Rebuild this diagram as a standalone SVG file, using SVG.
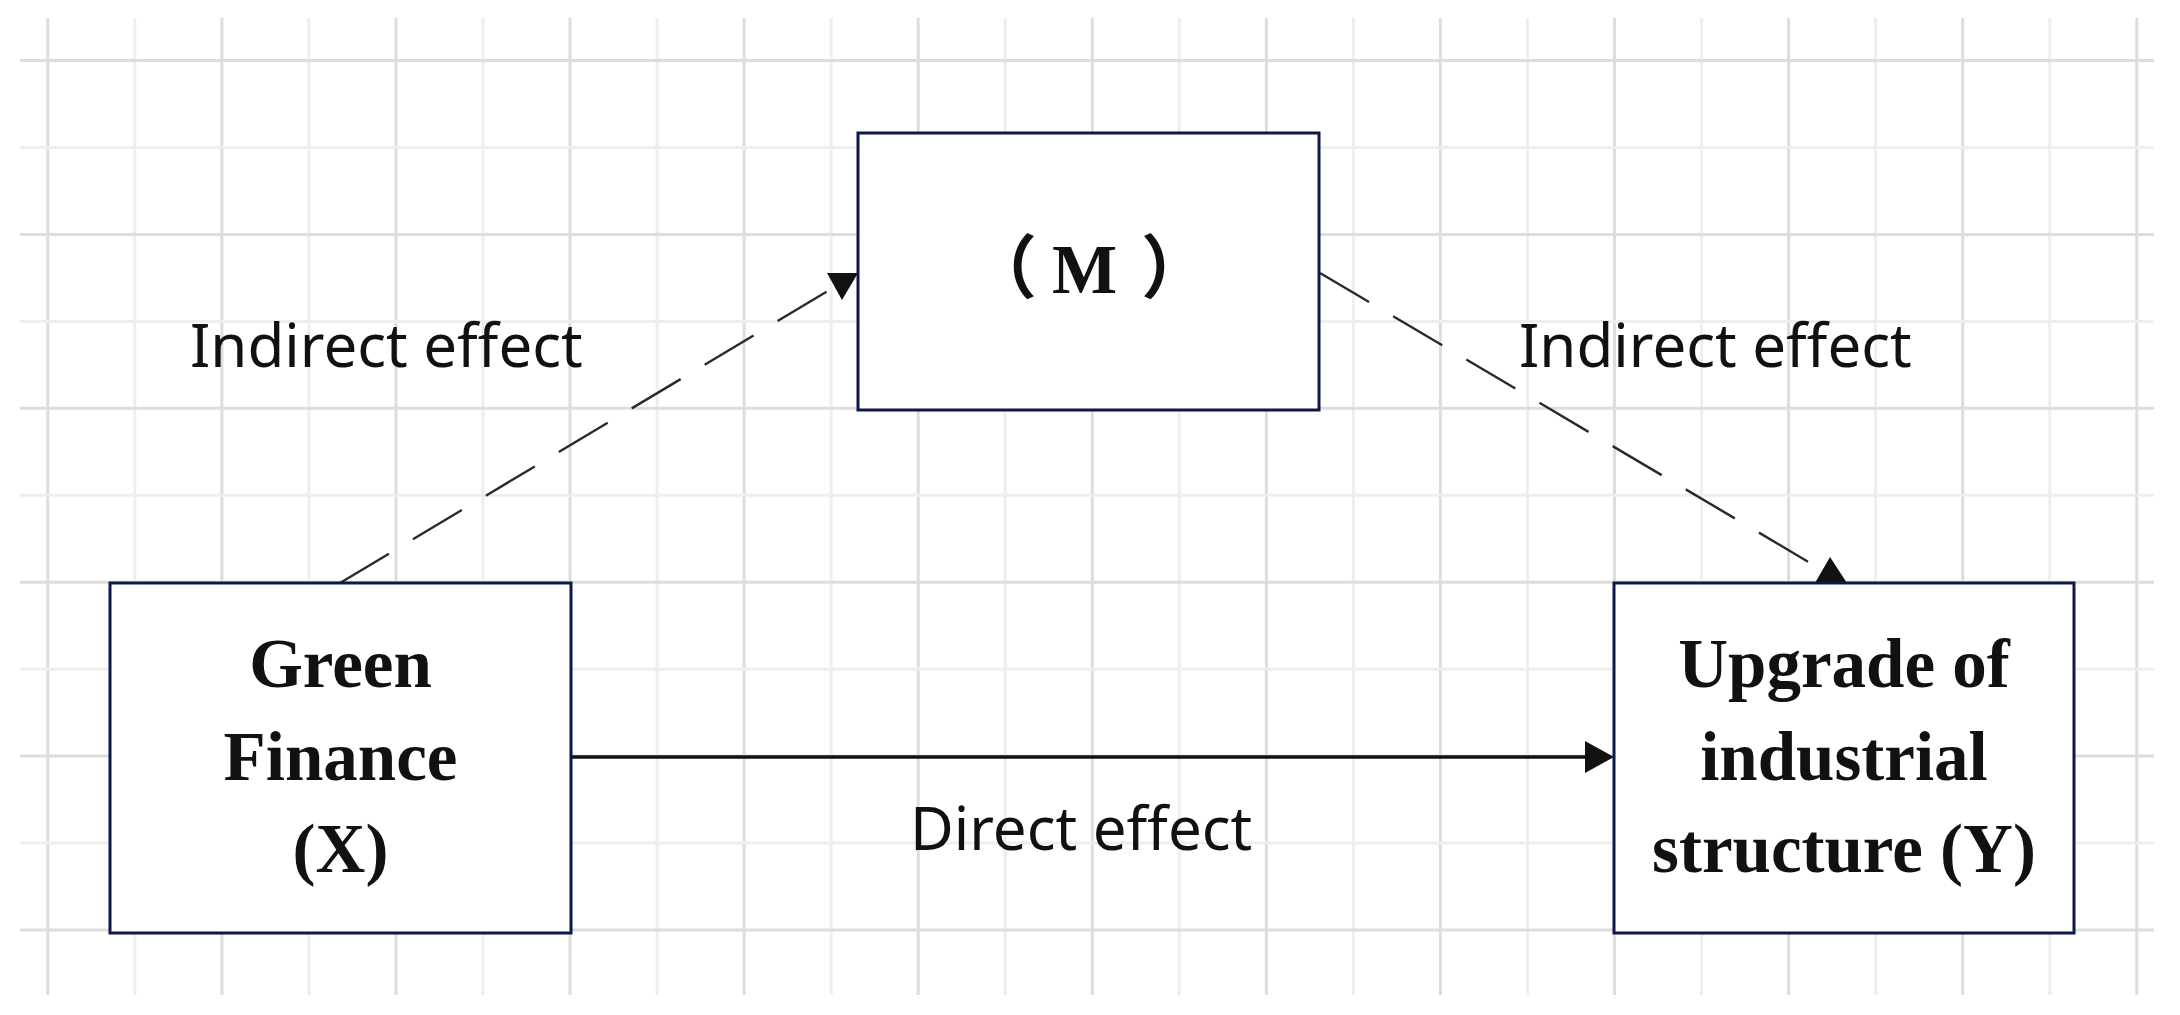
<svg xmlns="http://www.w3.org/2000/svg" width="2180" height="1015" viewBox="0 0 2180 1015">
<style>
.gd{stroke:#dddddd;stroke-width:3}
.gl{stroke:#eeeeee;stroke-width:3}
.box{fill:#ffffff;stroke:#0d1847;stroke-width:3}
.nt{font-family:"Liberation Serif","Noto Sans CJK SC",serif;font-weight:bold;font-size:69px;fill:#111111;text-anchor:middle}
.cjk{font-family:"Noto Sans CJK SC",sans-serif;font-weight:bold}
.lb{font-family:"Noto Sans","Open Sans",sans-serif;font-size:60px;fill:#111111}
.dash{stroke:#2a2a2a;stroke-width:2.4;stroke-dasharray:57 28;fill:none}
.solid{stroke:#111111;stroke-width:3.5;fill:none}
.ah{fill:#111111}
</style>
<rect width="2180" height="1015" fill="#ffffff"/>
<g id="grid">
<line class="gd" x1="47.8" y1="18" x2="47.8" y2="995"/>
<line class="gl" x1="134.8" y1="18" x2="134.8" y2="995"/>
<line class="gd" x1="221.9" y1="18" x2="221.9" y2="995"/>
<line class="gl" x1="308.9" y1="18" x2="308.9" y2="995"/>
<line class="gd" x1="396" y1="18" x2="396" y2="995"/>
<line class="gl" x1="483" y1="18" x2="483" y2="995"/>
<line class="gd" x1="570" y1="18" x2="570" y2="995"/>
<line class="gl" x1="657.1" y1="18" x2="657.1" y2="995"/>
<line class="gd" x1="744.1" y1="18" x2="744.1" y2="995"/>
<line class="gl" x1="831.2" y1="18" x2="831.2" y2="995"/>
<line class="gd" x1="918.2" y1="18" x2="918.2" y2="995"/>
<line class="gl" x1="1005.2" y1="18" x2="1005.2" y2="995"/>
<line class="gd" x1="1092.3" y1="18" x2="1092.3" y2="995"/>
<line class="gl" x1="1179.3" y1="18" x2="1179.3" y2="995"/>
<line class="gd" x1="1266.4" y1="18" x2="1266.4" y2="995"/>
<line class="gl" x1="1353.4" y1="18" x2="1353.4" y2="995"/>
<line class="gd" x1="1440.4" y1="18" x2="1440.4" y2="995"/>
<line class="gl" x1="1527.5" y1="18" x2="1527.5" y2="995"/>
<line class="gd" x1="1614.5" y1="18" x2="1614.5" y2="995"/>
<line class="gl" x1="1701.6" y1="18" x2="1701.6" y2="995"/>
<line class="gd" x1="1788.6" y1="18" x2="1788.6" y2="995"/>
<line class="gl" x1="1875.6" y1="18" x2="1875.6" y2="995"/>
<line class="gd" x1="1962.7" y1="18" x2="1962.7" y2="995"/>
<line class="gl" x1="2049.7" y1="18" x2="2049.7" y2="995"/>
<line class="gd" x1="2136.8" y1="18" x2="2136.8" y2="995"/>
<line class="gd" x1="20" y1="60.5" x2="2154" y2="60.5"/>
<line class="gl" x1="20" y1="147.5" x2="2154" y2="147.5"/>
<line class="gd" x1="20" y1="234.4" x2="2154" y2="234.4"/>
<line class="gl" x1="20" y1="321.4" x2="2154" y2="321.4"/>
<line class="gd" x1="20" y1="408.3" x2="2154" y2="408.3"/>
<line class="gl" x1="20" y1="495.3" x2="2154" y2="495.3"/>
<line class="gd" x1="20" y1="582.2" x2="2154" y2="582.2"/>
<line class="gl" x1="20" y1="669.2" x2="2154" y2="669.2"/>
<line class="gd" x1="20" y1="756.1" x2="2154" y2="756.1"/>
<line class="gl" x1="20" y1="843.1" x2="2154" y2="843.1"/>
<line class="gd" x1="20" y1="930" x2="2154" y2="930"/>
</g>
<g id="connectors">
<line class="dash" x1="340" y1="583" x2="829" y2="290.3"/>
<polygon class="ah" points="827,273 858,273 842,300"/>
<line class="dash" x1="1320" y1="273" x2="1810.6" y2="563.2"/>
<polygon class="ah" points="1815,583 1847,583 1830,557"/>
<line class="solid" x1="571" y1="757" x2="1588" y2="757"/>
<polygon class="ah" points="1585,741 1614,757 1585,773"/>
</g>
<g id="labels">
<text class="lb" x="190" y="367">Indirect effect</text>
<text class="lb" x="1519" y="367">Indirect effect</text>
<text class="lb" x="910" y="850">Direct effect</text>
</g>
<g id="node-x">
<rect class="box" x="110" y="583" width="461" height="350"/>
<text class="nt" x="340.5" y="687">Green</text>
<text class="nt" x="340.5" y="780">Finance</text>
<text class="nt" x="340.5" y="872">(X)</text>
</g>
<g id="node-m">
<rect class="box" x="858" y="133" width="461" height="277"/>
<text class="nt" y="293" style="text-anchor:start"><tspan class="cjk" x="968">（</tspan><tspan x="1052">M</tspan><tspan class="cjk" x="1141">）</tspan></text>
</g>
<g id="node-y">
<rect class="box" x="1614" y="583" width="460" height="350"/>
<text class="nt" x="1844" y="687">Upgrade of</text>
<text class="nt" x="1844" y="780">industrial</text>
<text class="nt" x="1844" y="872">structure (Y)</text>
</g>
</svg>
